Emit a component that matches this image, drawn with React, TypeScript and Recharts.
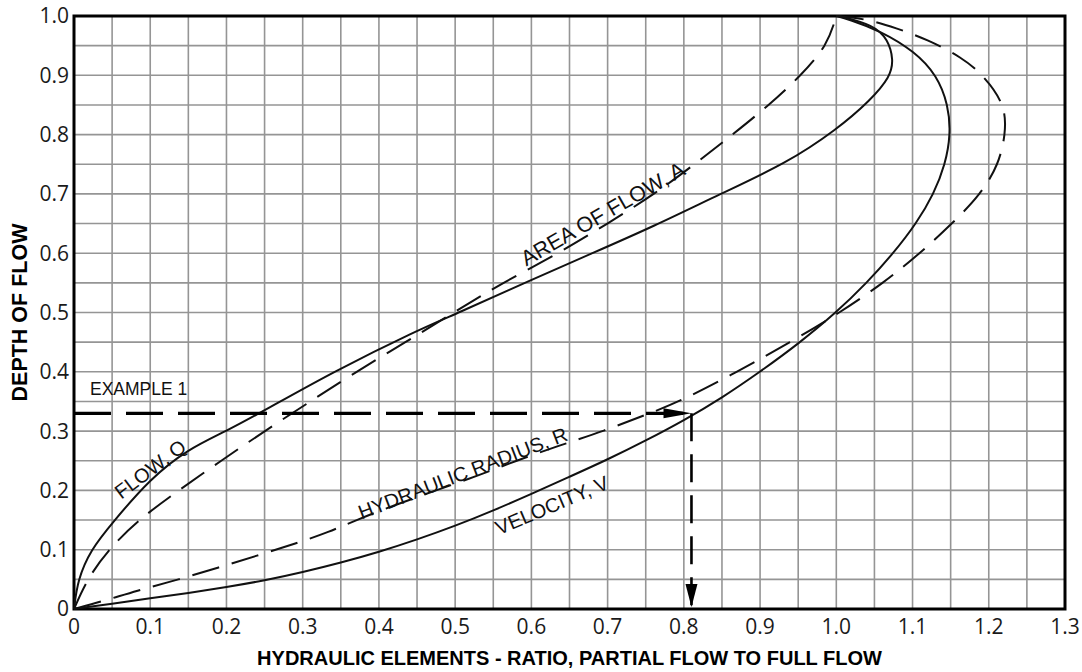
import {
  CartesianGrid,
  Line,
  LineChart,
  ReferenceArea,
  ReferenceDot,
  XAxis,
  YAxis,
} from "recharts";

// grid every 0.05, labels every 0.1
const xTicks = [
  0, 0.05, 0.1, 0.15, 0.2, 0.25, 0.3, 0.35, 0.4, 0.45, 0.5, 0.55, 0.6, 0.65,
  0.7, 0.75, 0.8, 0.85, 0.9, 0.95, 1.0, 1.05, 1.1, 1.15, 1.2, 1.25, 1.3,
];
const yTicks = [
  0, 0.05, 0.1, 0.15, 0.2, 0.25, 0.3, 0.35, 0.4, 0.45, 0.5, 0.55, 0.6, 0.65,
  0.7, 0.75, 0.8, 0.85, 0.9, 0.95, 1.0,
];

// [ratio, depth] pairs
const flowQ = [
  [0, 0], [0.005, 0.05], [0.022, 0.1], [0.05, 0.145], [0.1, 0.22],
  [0.15, 0.27], [0.2, 0.3], [0.25, 0.335], [0.34, 0.4], [0.45, 0.47],
  [0.5, 0.497], [0.6, 0.555], [0.68, 0.6], [0.76, 0.645], [0.848, 0.7],
  [0.935, 0.752], [1.0, 0.808], [1.045, 0.858], [1.071, 0.898],
  [1.075, 0.926], [1.068, 0.96], [1.049, 0.985], [1.003, 1.0],
];

const areaA = [
  [0, 0], [0.017, 0.05], [0.045, 0.1], [0.084, 0.15], [0.137, 0.2],
  [0.193, 0.25], [0.25, 0.3], [0.31, 0.35], [0.37, 0.4], [0.435, 0.45],
  [0.498, 0.5], [0.562, 0.55], [0.636, 0.6], [0.7, 0.65], [0.762, 0.7],
  [0.814, 0.75], [0.864, 0.8], [0.912, 0.85], [0.954, 0.9], [0.988, 0.95],
  [1.0, 1.0],
];

const radiusR = [
  [0, 0], [0.043, 0.015], [0.08, 0.03], [0.138, 0.05], [0.19, 0.07],
  [0.24, 0.09], [0.29, 0.11], [0.335, 0.13], [0.37, 0.15], [0.42, 0.175],
  [0.475, 0.2], [0.53, 0.225], [0.58, 0.25], [0.635, 0.275], [0.695, 0.3],
  [0.755, 0.33], [0.795, 0.35], [0.87, 0.4], [0.94, 0.45], [1.005, 0.5],
  [1.062, 0.55], [1.11, 0.6], [1.152, 0.65], [1.19, 0.7], [1.213, 0.75],
  [1.222, 0.8], [1.222, 0.85], [1.193, 0.9], [1.165, 0.93], [1.12, 0.96],
  [1.078, 0.98], [1.04, 0.995], [1.0, 1.0],
];

const velocityV = [
  [0, 0], [0.05, 0.009], [0.1, 0.018], [0.15, 0.027], [0.2, 0.037],
  [0.25, 0.048], [0.3, 0.062], [0.35, 0.078], [0.4, 0.096], [0.45, 0.117],
  [0.5, 0.14], [0.55, 0.166], [0.6, 0.194], [0.65, 0.223], [0.7, 0.252],
  [0.75, 0.284], [0.8, 0.318], [0.85, 0.356], [0.9, 0.4], [0.95, 0.447],
  [1.0, 0.5], [1.04, 0.55], [1.075, 0.6], [1.105, 0.65], [1.128, 0.7],
  [1.143, 0.75], [1.15, 0.8], [1.147, 0.85], [1.132, 0.9], [1.103, 0.94],
  [1.058, 0.975], [1.015, 0.995], [1.0, 1.0],
];

const exampleAcross = [[0, 0.33], [0.81, 0.33]];
const exampleDown = [[0.81, 0.33], [0.81, 0]];

const labels = [
  { text: "EXAMPLE 1", x: 0.021, y: 0.361, angle: 0, anchor: "start", size: 17.5 },
  { text: "FLOW, Q", x: 0.1, y: 0.236, angle: -37, anchor: "middle", size: 20 },
  { text: "AREA OF FLOW, A", x: 0.694, y: 0.666, angle: -30, anchor: "middle", size: 21.5 },
  { text: "HYDRAULIC RADIUS, R", x: 0.51, y: 0.229, angle: -21, anchor: "middle", size: 20 },
  { text: "VELOCITY, V", x: 0.627, y: 0.175, angle: -23, anchor: "middle", size: 20 },
];

const toPoints = (rows: number[][]) => rows.map(([x, y]) => ({ x, y }));

const fmt = (v: number) => {
  const t = Math.round(v * 100);
  if (t % 10 !== 0) return "";
  return t === 0 ? "0" : (t / 100).toFixed(1);
};

const INK = "#111";
const tickStyle = { fontFamily: "'Open Sans', 'Noto Sans', sans-serif", fontSize: 21, fill: "#1a1a1a" };

const noDot = (p: any) => <g key={`d${p.index}`} />;

const arrowRight = (p: any) =>
  p.index === 1 ? (
    <polygon
      key="ar"
      points={`${p.cx},${p.cy} ${p.cx - 28},${p.cy - 5} ${p.cx - 28},${p.cy + 5}`}
      fill="#000"
    />
  ) : (
    <g key={`a${p.index}`} />
  );

const arrowDown = (p: any) =>
  p.index === 1 ? (
    <polygon
      key="ad"
      points={`${p.cx},${p.cy - 2} ${p.cx - 6},${p.cy - 25} ${p.cx + 6},${p.cy - 25}`}
      fill="#000"
    />
  ) : (
    <g key={`b${p.index}`} />
  );

export default function App() {
  return (
    <div style={{ width: 1082, height: 672, background: "#fff" }}>
      <style>{`body{margin:0}`}</style>
      <LineChart
        width={1082}
        height={672}
        margin={{ top: 16, right: 17, left: 0, bottom: 0 }}
      >
        <CartesianGrid stroke="#959595" strokeWidth={1.6} />
        <XAxis
          type="number"
          dataKey="x"
          domain={[0, 1.3]}
          ticks={xTicks}
          tickFormatter={fmt}
          interval={0}
          height={63}
          tickSize={0}
          tickMargin={10}
          axisLine={false}
          tick={tickStyle}
          label={{
            content: (p: any) => {
              const vb = p.viewBox;
              return (
                <text
                  x={vb.x + vb.width / 2}
                  y={vb.y + 56}
                  textAnchor="middle"
                  fontFamily="Liberation Sans"
                  fontWeight="bold"
                  fontSize={20}
                  fill="#000"
                >
                  HYDRAULIC ELEMENTS - RATIO, PARTIAL FLOW TO FULL FLOW
                </text>
              );
            },
          }}
        />
        <YAxis
          type="number"
          domain={[0, 1]}
          ticks={yTicks}
          tickFormatter={fmt}
          interval={0}
          width={74}
          tickSize={0}
          tickMargin={5}
          axisLine={false}
          tick={tickStyle}
          label={{
            content: (p: any) => {
              const vb = p.viewBox;
              const cx = vb.x + 20;
              const cy = vb.y + vb.height / 2;
              return (
                <text
                  x={cx}
                  y={cy}
                  transform={`rotate(-90 ${cx} ${cy})`}
                  textAnchor="middle"
                  dominantBaseline="central"
                  fontFamily="Liberation Sans"
                  fontWeight="bold"
                  fontSize={21.5}
                  fill="#000"
                >
                  DEPTH OF FLOW
                </text>
              );
            },
          }}
        />

        <Line data={toPoints(flowQ)} dataKey="y" type="basis" stroke={INK} strokeWidth={2} dot={noDot} activeDot={false} isAnimationActive={false} />
        <Line data={toPoints(areaA)} dataKey="y" type="basis" stroke={INK} strokeWidth={2} strokeDasharray="28 13" dot={noDot} activeDot={false} isAnimationActive={false} />
        <Line data={toPoints(radiusR)} dataKey="y" type="basis" stroke={INK} strokeWidth={2} strokeDasharray="28 13" dot={noDot} activeDot={false} isAnimationActive={false} />
        <Line data={toPoints(velocityV)} dataKey="y" type="basis" stroke={INK} strokeWidth={2} dot={noDot} activeDot={false} isAnimationActive={false} />
        <Line data={toPoints(exampleAcross)} dataKey="y" type="linear" stroke="#000" strokeWidth={3.2} strokeDasharray="37 15" dot={arrowRight} activeDot={false} isAnimationActive={false} />
        <Line data={toPoints(exampleDown)} dataKey="y" type="linear" stroke="#000" strokeWidth={2.6} strokeDasharray="28 13" dot={arrowDown} activeDot={false} isAnimationActive={false} />

        {labels.map((l) => (
          <ReferenceDot
            key={l.text}
            x={l.x}
            y={l.y}
            r={0}
            ifOverflow="visible"
            shape={(p: any) => (
              <text
                x={p.cx}
                y={p.cy}
                transform={`rotate(${l.angle} ${p.cx} ${p.cy})`}
                textAnchor={l.anchor}
                dominantBaseline={l.anchor === "start" ? "auto" : "central"}
                fontFamily="Liberation Sans"
                fontSize={l.size}
                fill="#111"
              >
                {l.text}
              </text>
            )}
          />
        ))}

        <ReferenceArea
          x1={0}
          x2={1.3}
          y1={0}
          y2={1}
          fill="none"
          fillOpacity={0}
          stroke="#000"
          strokeWidth={3}
          ifOverflow="visible"
        />
      </LineChart>
    </div>
  );
}
